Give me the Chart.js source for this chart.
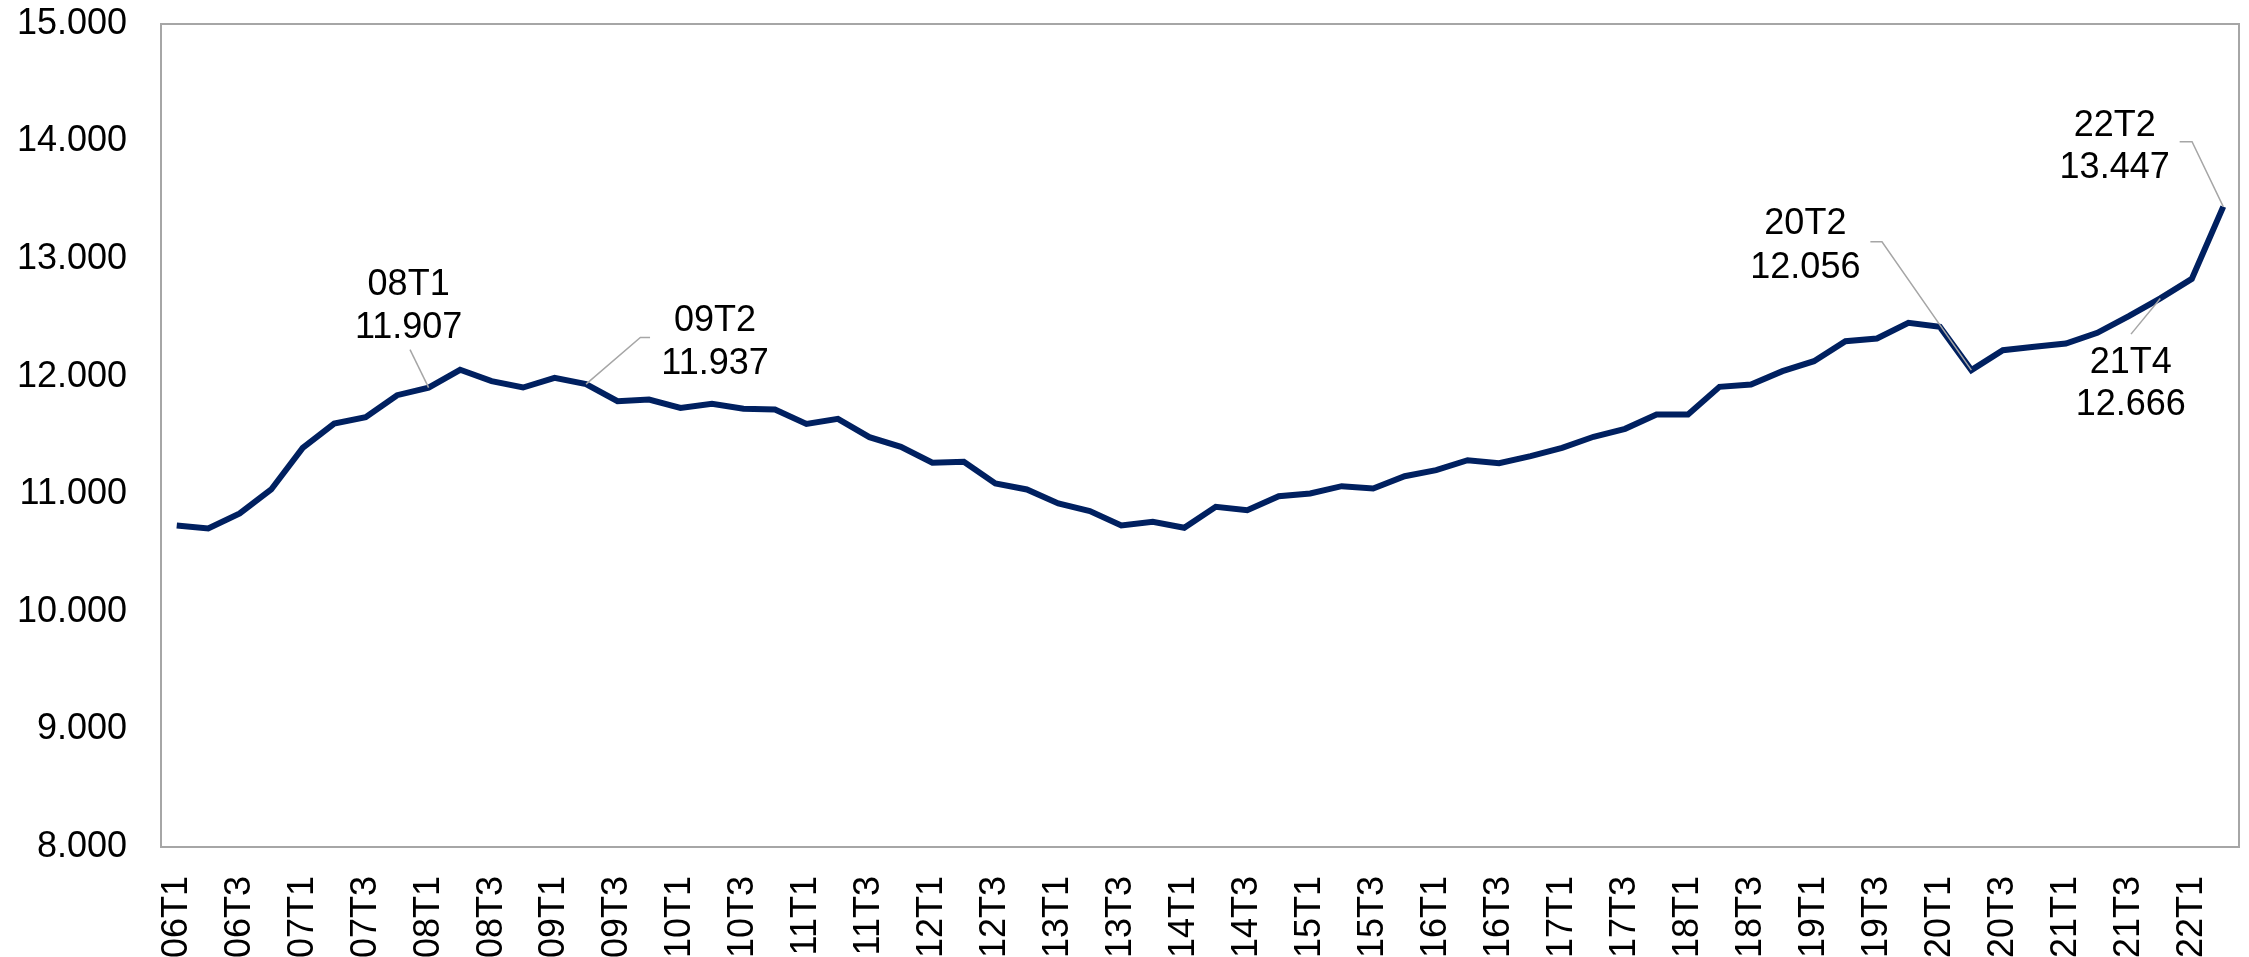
<!DOCTYPE html>
<html><head><meta charset="utf-8">
<script src="https://cdn.jsdelivr.net/npm/chart.js@4/dist/chart.umd.min.js"></script>
<style>html,body{margin:0;padding:0;background:#fff;overflow:hidden}#wrap{width:2249px;height:957px}</style>
</head><body><div id="wrap"><canvas id="c" width="2249" height="957"></canvas></div>
<script>
const categories = [
  "06T1","06T2","06T3","06T4","07T1","07T2","07T3","07T4",
  "08T1","08T2","08T3","08T4","09T1","09T2","09T3","09T4",
  "10T1","10T2","10T3","10T4","11T1","11T2","11T3","11T4",
  "12T1","12T2","12T3","12T4","13T1","13T2","13T3","13T4",
  "14T1","14T2","14T3","14T4","15T1","15T2","15T3","15T4",
  "16T1","16T2","16T3","16T4","17T1","17T2","17T3","17T4",
  "18T1","18T2","18T3","18T4","19T1","19T2","19T3","19T4",
  "20T1","20T2","20T3","20T4","21T1","21T2","21T3","21T4",
  "22T1","22T2"
];
const values = [
  10735,10709,10837,11041,11395,11602,11656,11843,
  11907,12059,11962,11908,11990,11937,11792,11806,
  11735,11769,11727,11721,11598,11642,11486,11404,
  11268,11276,11092,11041,10922,10857,10735,10766,
  10715,10893,10865,10984,11007,11069,11049,11154,
  11205,11290,11265,11324,11395,11489,11557,11679,
  11679,11914,11934,12047,12132,12302,12325,12458,
  12424,12056,12226,12254,12282,12373,12515,12666,
  12832,13447
];
const yMin = 8000;
const yMax = 15000;
const yStep = 1000;
const annotatedIndices = [8, 13, 57, 63, 65];

function fmt(v){ return String(Math.round(v)).replace(/\B(?=(\d{3})+(?!\d))/g, '.'); }

const FONT = "'Liberation Sans', Arial, Helvetica, sans-serif";

// label placement relative to the data point (pixels)
const labelPlacement = {
  8:  {tx: -20,   ty1: -92.5, ty2: -50,   leader: [[-18.6, -38]]},
  13: {tx: 129,   ty1: -53,   ty2: -10,   leader: [[54.3, -46.7], [64, -46.7]]},
  57: {tx: -166,  ty1: -136,  ty2: -92,   leader: [[-89.4, -128.3], [-101, -128.3]]},
  63: {tx: -29.5, ty1: 75,    ty2: 117,   leader: [[-29.3, 35.7]]},
  65: {tx: -108.6,ty1: -70.8, ty2: -28.2, leader: [[-31.2, -64.8], [-43.6, -64.8]]}
};

const frame = {
  id: 'frame',
  beforeDatasetsDraw(chart){
    const {ctx, chartArea: a} = chart;
    ctx.save();
    ctx.strokeStyle = '#a6a6a6';
    ctx.lineWidth = 2;
    ctx.strokeRect(a.left, a.top, a.right - a.left, a.bottom - a.top);
    ctx.restore();
  }
};

const callouts = {
  id: 'callouts',
  afterDatasetsDraw(chart){
    const ctx = chart.ctx;
    const meta = chart.getDatasetMeta(0);
    ctx.save();
    annotatedIndices.forEach(i => {
      const p = meta.data[i];
      const s = labelPlacement[i];
      ctx.beginPath();
      ctx.strokeStyle = '#a6a6a6';
      ctx.lineWidth = 1.5;
      ctx.moveTo(p.x, p.y);
      s.leader.forEach(([dx, dy]) => ctx.lineTo(p.x + dx, p.y + dy));
      ctx.stroke();
      ctx.fillStyle = '#000';
      ctx.font = '36px ' + FONT;
      ctx.textAlign = 'center';
      ctx.textBaseline = 'alphabetic';
      ctx.fillText(categories[i], p.x + s.tx, p.y + s.ty1);
      ctx.fillText(fmt(values[i]), p.x + s.tx, p.y + s.ty2);
    });
    ctx.restore();
  }
};

function zeroPad(s){ s.paddingLeft = 0; s.paddingRight = 0; s.paddingTop = 0; s.paddingBottom = 0; }

new Chart(document.getElementById('c'), {
  type: 'line',
  data: {
    labels: categories,
    datasets: [{
      data: values,
      borderColor: '#002060',
      borderWidth: 6,
      pointRadius: 0,
      tension: 0,
      fill: false
    }]
  },
  options: {
    responsive: false,
    animation: false,
    devicePixelRatio: 1,
    layout: {padding: {top: 24, right: 10, left: 0, bottom: 0}},
    plugins: {legend: {display: false}, tooltip: {enabled: false}},
    scales: {
      x: {
        offset: true,
        grid: {display: false, drawTicks: false},
        border: {display: false},
        afterFit(s){ s.height = 110; zeroPad(s); },
        ticks: {
          autoSkip: false,
          minRotation: 90,
          maxRotation: 90,
          padding: 29,
          color: '#000',
          font: {family: FONT, size: 36},
          callback(v, i){ return i % 2 === 0 ? categories[i] : ''; }
        }
      },
      y: {
        min: yMin,
        max: yMax,
        grid: {display: false, drawTicks: false},
        border: {display: false},
        afterFit(s){ s.width = 161; zeroPad(s); },
        ticks: {
          stepSize: yStep,
          padding: 34,
          color: '#000',
          font: {family: FONT, size: 36},
          callback(v){ return fmt(v); }
        }
      }
    }
  },
  plugins: [frame, callouts]
});
</script></body></html>
